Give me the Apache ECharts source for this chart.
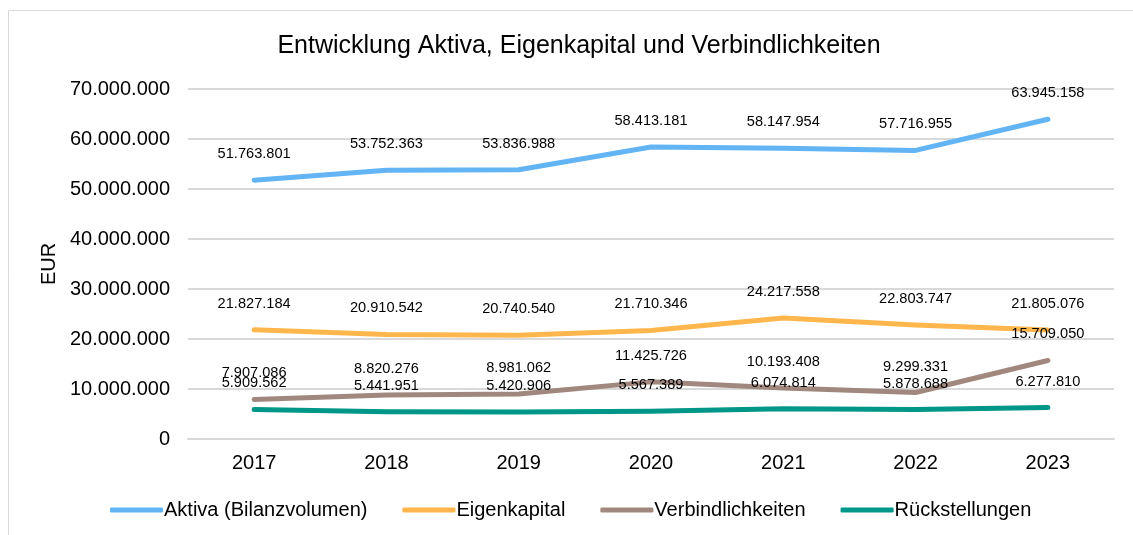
<!DOCTYPE html>
<html>
<head>
<meta charset="utf-8">
<script src="https://cdn.jsdelivr.net/npm/echarts@6/dist/echarts.min.js"></script>
<style>
  html, body { margin: 0; padding: 0; background: #fff; }
  #chart { width: 1133px; height: 535px; }
</style>
</head>
<body>
<div id="chart"></div>
<script>
const years = ['2017', '2018', '2019', '2020', '2021', '2022', '2023']
const aktiva = [51763801, 53752363, 53836988, 58413181, 58147954, 57716955, 63945158]
const eigenkapital = [21827184, 20910542, 20740540, 21710346, 24217558, 22803747, 21805076]
const verbindlichkeiten = [7907086, 8820276, 8981062, 11425726, 10193408, 9299331, 15709050]
const rueckstellungen = [5909562, 5441951, 5420906, 5567389, 6074814, 5878688, 6277810]

// Tausenderpunkte wie im Original
function fmt(v) {
  return String(Math.round(v)).replace(/\B(?=(\d{3})+(?!\d))/g, '.')
}

function lineSeries(name, data, color) {
  return {
    name: name,
    type: 'line',
    data: data,
    symbol: 'circle',
    symbolSize: 1,
    showSymbol: true,
    lineStyle: { width: 5, color: color, cap: 'round', join: 'round' },
    itemStyle: { color: color },
    label: {
      show: true,
      position: 'top',
      distance: 18,
      fontSize: 14.6,
      color: '#000',
      fontFamily: 'Liberation Sans',
      formatter: p => fmt(p.value)
    },
    labelLayout: { hideOverlap: false },
    emphasis: { disabled: true }
  }
}

const myChart = echarts.init(document.getElementById('chart'))
const option = {
  animation: false,
  textStyle: { fontFamily: 'Liberation Sans' },
  graphic: [{
    type: 'rect',
    shape: { x: 8.5, y: 10.5, width: 1200, height: 600 },
    style: { fill: 'none', stroke: '#d9d9d9', lineWidth: 1 },
    silent: true,
    z: -10
  }],
  title: {
    text: 'Entwicklung Aktiva, Eigenkapital und Verbindlichkeiten',
    left: 574,
    textAlign: 'center',
    top: 29,
    textStyle: { fontSize: 25, fontWeight: 'normal', color: '#000', fontFamily: 'Liberation Sans' }
  },
  legend: {
    top: 495,
    left: 105,
    itemWidth: 53,
    itemHeight: 5,
    itemGap: 35,
    icon: 'roundRect',
    textStyle: { fontSize: 20, color: '#000', fontFamily: 'Liberation Sans', padding: [0, 0, 0, -4] },
    data: ['Aktiva (Bilanzvolumen)', 'Eigenkapital', 'Verbindlichkeiten', 'Rückstellungen']
  },
  grid: { left: 188, right: 19, top: 89, bottom: 96 },
  xAxis: {
    type: 'category',
    data: years,
    boundaryGap: true,
    axisLine: { lineStyle: { color: '#d9d9d9', width: 2 } },
    axisTick: { show: false },
    axisLabel: { fontSize: 20, color: '#000', margin: 14 }
  },
  yAxis: {
    type: 'value',
    min: 0,
    max: 70000000,
    interval: 10000000,
    name: 'EUR',
    nameLocation: 'middle',
    nameGap: 124,
    nameRotate: 90,
    nameTextStyle: { fontSize: 20, color: '#000' },
    axisLine: { show: false },
    axisTick: { show: false },
    splitLine: { lineStyle: { color: '#d9d9d9', width: 2 } },
    axisLabel: { fontSize: 20, color: '#000', margin: 18, formatter: v => fmt(v) }
  },
  series: [
    lineSeries('Aktiva (Bilanzvolumen)', aktiva, '#62b4f4'),
    lineSeries('Eigenkapital', eigenkapital, '#ffb64c'),
    lineSeries('Verbindlichkeiten', verbindlichkeiten, '#a1887f'),
    lineSeries('Rückstellungen', rueckstellungen, '#009688')
  ]
}
option && myChart.setOption(option)
</script>
</body>
</html>
